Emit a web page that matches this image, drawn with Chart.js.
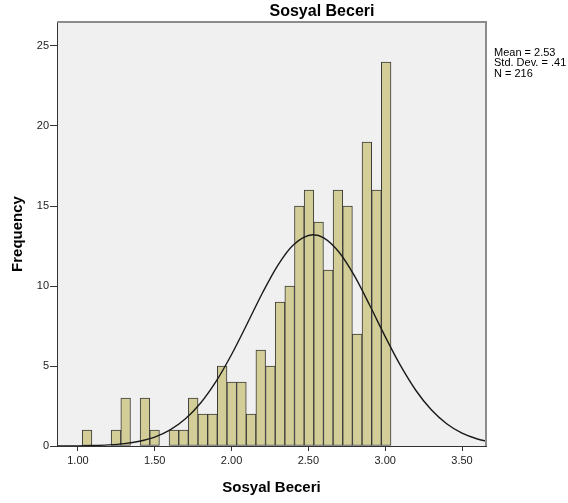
<!DOCTYPE html>
<html lang="tr">
<head>
  <meta charset="UTF-8" />
  <title>Sosyal Beceri</title>
  <script src="https://cdn.jsdelivr.net/npm/chart.js@4.4.0/dist/chart.umd.min.js"></script>
  <style>
    body {
      margin: 0;
      background: #ffffff;
    }
    #chart-box {
      width: 568px;
      height: 503px;
    }
  </style>
</head>
<body>
  <div id="chart-box">
    <canvas id="histChart" width="568" height="503"></canvas>
  </div>

  <script>
    // bin midpoints (Sosyal Beceri) and counts
    const binMids = [
      1.0594, 1.1222, 1.1850, 1.2478, 1.3106, 1.3734, 1.4362, 1.4990,
      1.5618, 1.6246, 1.6874, 1.7502, 1.8130, 1.8758, 1.9386, 2.0014,
      2.0642, 2.1270, 2.1898, 2.2526, 2.3154, 2.3782, 2.4410, 2.5038,
      2.5666, 2.6294, 2.6922, 2.7550, 2.8178, 2.8806, 2.9434, 3.0062
    ];
    const freqs = [
      1, 0, 0, 1, 3, 0, 3, 1,
      0, 1, 1, 3, 2, 2, 5, 4,
      4, 2, 6, 5, 9, 10, 15, 16,
      14, 11, 16, 15, 7, 19, 16, 24
    ];

    // normal curve, heights
    const curveX = [0.85, 0.9, 1.0, 1.1, 1.2, 1.3, 1.4, 1.5, 1.6, 1.7, 1.8, 1.9, 2.0,
                    2.1, 2.2, 2.3, 2.4, 2.53, 2.6, 2.7, 2.8, 2.9, 3.0, 3.1, 3.2,
                    3.3, 3.4, 3.5, 3.6, 3.7];
    const curveY = [0.01, 0.01, 0.01, 0.03, 0.07, 0.15, 0.30, 0.56, 1.01, 1.70, 2.70, 4.05, 5.72,
                    7.61, 9.55, 11.28, 12.55, 13.20, 13.01, 12.11, 10.63, 8.78, 6.84, 5.02, 3.47,
                    2.26, 1.39, 0.80, 0.44, 0.23];

    const xTicks = [1.0, 1.5, 2.0, 2.5, 3.0, 3.5];
    const yTicks = [0, 5, 10, 15, 20, 25];
    const statLines = ['Mean = 2.53', 'Std. Dev. = .41', 'N = 216'];

    const FONT = '"Liberation Sans", Arial, sans-serif';

    // plot background, grey frame, title and the stats box
    const spssFrame = {
      id: 'spssFrame',
      beforeDraw(chart) {
        const { ctx, chartArea: a } = chart;
        ctx.save();
        ctx.fillStyle = '#f0f0f0';
        ctx.fillRect(a.left, a.top, a.right - a.left, a.bottom - a.top);
        ctx.restore();
      },
      afterDraw(chart) {
        const { ctx, chartArea: a } = chart;
        ctx.save();
        ctx.strokeStyle = '#8c8c8c';
        ctx.lineWidth = 2;
        ctx.beginPath();
        ctx.moveTo(a.left, a.top);
        ctx.lineTo(a.right, a.top);
        ctx.lineTo(a.right, a.bottom);
        ctx.stroke();

        ctx.fillStyle = '#000';
        ctx.font = 'bold 16px ' + FONT;
        ctx.textAlign = 'center';
        ctx.textBaseline = 'alphabetic';
        ctx.fillText('Sosyal Beceri', 322, 16);

        ctx.font = '11px ' + FONT;
        ctx.textAlign = 'left';
        statLines.forEach((s, i) => ctx.fillText(s, a.right + 8, 56 + i * 10.3));
        ctx.restore();
      }
    };

    new Chart(document.getElementById('histChart'), {
      type: 'bar',
      data: {
        datasets: [
          {
            type: 'line',
            data: curveX.map((x, i) => ({ x: x, y: curveY[i] })),
            borderColor: '#1a1a1a',
            borderWidth: 1.4,
            pointRadius: 0,
            cubicInterpolationMode: 'monotone',
            fill: false,
            clip: 0,
            order: 0
          },
          {
            data: binMids.map((x, i) => ({ x: x, y: freqs[i] })),
            backgroundColor: '#d3ce97',
            borderColor: '#3a3a3a',
            borderWidth: 1,
            borderSkipped: false,
            barPercentage: 1,
            categoryPercentage: 1,
            order: 1
          }
        ]
      },
      options: {
        responsive: false,
        animation: false,
        layout: {
          padding: { top: 22, right: 82, left: 0, bottom: 0 }
        },
        plugins: {
          legend: { display: false },
          tooltip: { enabled: false },
          title: { display: false }
        },
        scales: {
          x: {
            type: 'linear',
            offset: false,
            min: 0.864,
            max: 3.656,
            afterBuildTicks: s => { s.ticks = xTicks.map(v => ({ value: v })); },
            ticks: {
              autoSkip: false,
              maxRotation: 0,
              padding: 3,
              color: '#222',
              font: { family: FONT, size: 11 },
              callback: v => Number(v).toFixed(2)
            },
            grid: {
              offset: false,
              drawOnChartArea: false,
              tickLength: 5,
              tickColor: '#333'
            },
            border: { color: '#333', width: 1 },
            title: {
              display: true,
              text: 'Sosyal Beceri',
              color: '#000',
              font: { family: FONT, size: 15, weight: 'bold' },
              padding: { top: 8.8, bottom: 6 }
            }
          },
          y: {
            min: 0,
            max: 26.5,
            afterBuildTicks: s => { s.ticks = yTicks.map(v => ({ value: v })); },
            ticks: {
              padding: 1,
              color: '#222',
              font: { family: FONT, size: 11 }
            },
            grid: {
              drawOnChartArea: false,
              tickLength: 7,
              tickColor: '#333'
            },
            border: { color: '#333', width: 1 },
            title: {
              display: true,
              text: 'Frequency',
              color: '#000',
              font: { family: FONT, size: 15, weight: 'bold' },
              padding: { top: 9, bottom: 8.8 }
            }
          }
        }
      },
      plugins: [spssFrame]
    });
  </script>
</body>
</html>
